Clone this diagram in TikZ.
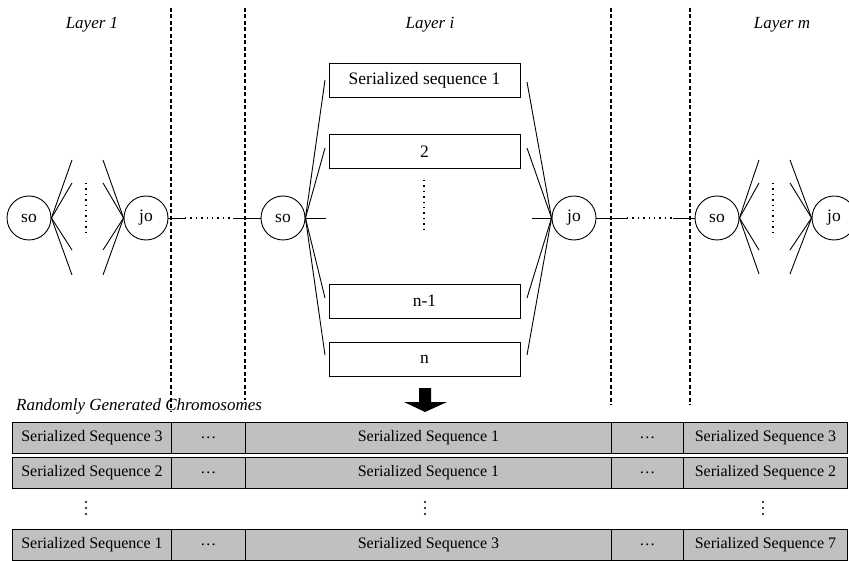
\documentclass[tikz,border=0pt]{standalone}
\usepackage{fontspec}
\setmainfont{Liberation Serif}
\definecolor{cellgray}{HTML}{C0C0C0}
\begin{document}
\begin{tikzpicture}[x=1pt,y=-1pt,
  cell/.style={draw, fill=cellgray, line width=0.9pt, minimum height=31pt, inner sep=0pt,
    anchor=north west, font=\fontsize{16}{18}\selectfont},
  seqbox/.style={draw, fill=white, line width=0.9pt, minimum width=191pt, minimum height=34pt,
    inner sep=0pt, font=\fontsize{17.5}{19}\selectfont},
  opnode/.style={draw, circle, line width=0.9pt, minimum size=44pt, inner sep=0pt,
    font=\fontsize{17.5}{19}\selectfont},
  fan/.style={line width=0.9pt},
  layersep/.style={line width=1.7pt, dash pattern=on 4pt off 2.5pt},
  dotline/.style={line width=1.4pt, dash pattern=on 1.4pt off 4pt},
  layerlabel/.style={font=\itshape\fontsize{17}{19}\selectfont},
  tdot/.style={fill, radius=1.1pt}
]
\useasboundingbox (0,0) rectangle (849,561);

% layer separators
\coordinate (d1t) at (171,8);  \coordinate (d1b) at (171,412);
\coordinate (d2t) at (245,8);  \coordinate (d2b) at (245,400);
\coordinate (d3t) at (611,8);  \coordinate (d3b) at (611,405);
\coordinate (d4t) at (690,8);  \coordinate (d4b) at (690,405);
\foreach \n in {1,2,3,4} \draw[layersep] (d\n t) -- (d\n b);

% layer titles
\node[layerlabel] (l1) at (92,25) {Layer 1};
\node[layerlabel] (li) at (430,25) {Layer i};
\node[layerlabel] (lm) at (782,25) {Layer m};

% operator nodes
\node[opnode] (s1) at (29,218) {so};
\node[opnode] (j1) at (146,218) {jo};
\node[opnode] (si) at (283,218) {so};
\node[opnode] (ji) at (574,218) {jo};
\node[opnode] (sm) at (717,218) {so};
\node[opnode] (jm) at (834,218) {jo};

% serialized sequences of layer i
\node[seqbox] (q1) at (424.5,80) {Serialized sequence 1};
\node[seqbox] (q2) at (424.5,151.5) {2};
\node[seqbox] (q3) at (424.5,301) {n-1};
\node[seqbox] (q4) at (424.5,359.5) {n};

% fans of layer 1
\foreach \y [count=\k] in {160,183,250,275} {
  \coordinate (a\k) at (72,\y);
  \coordinate (b\k) at (103,\y);
  \draw[fan] (s1.east) -- (a\k);
  \draw[fan] (j1.west) -- (b\k);
}
\coordinate (v1t) at (86,183); \coordinate (v1b) at (86,237);
\draw[dotline] (v1t) -- (v1b);

% fans of layer i
\foreach \y/\yy [count=\k] in {80/82,148/148,298/298,355/355} {
  \coordinate (c\k) at (325,\y);
  \coordinate (e\k) at (527,\yy);
  \draw[fan] (si.east) -- (c\k);
  \draw[fan] (ji.west) -- (e\k);
}
\coordinate (cm) at (326,218); \coordinate (em) at (532,218);
\draw[fan] (si.east) -- (cm);
\draw[fan] (ji.west) -- (em);
\coordinate (vit) at (424,180); \coordinate (vib) at (424,233);
\draw[dotline] (vit) -- (vib);

% fans of layer m
\foreach \y [count=\k] in {160,183,250,274} {
  \coordinate (f\k) at (759,\y);
  \coordinate (g\k) at (790,\y);
  \draw[fan] (sm.east) -- (f\k);
  \draw[fan] (jm.west) -- (g\k);
}
\coordinate (vmt) at (773,183); \coordinate (vmb) at (773,237);
\draw[dotline] (vmt) -- (vmb);

% links between layers
\coordinate (p1) at (185,218); \coordinate (p2) at (233,218);
\draw[fan] (j1.east) -- (p1);
\draw[dotline] (p1) -- (p2);
\draw[fan] (p2) -- (si.west);
\coordinate (r1) at (627,218); \coordinate (r2) at (673,218);
\draw[fan] (ji.east) -- (r1);
\draw[dotline] (r1) -- (r2);
\draw[fan] (r2) -- (sm.west);

% block arrow down to the chromosomes
\fill (419,388) -- (431,388) -- (431,402) -- (447,402) -- (425,412)
  -- (404,402) -- (419,402) -- cycle;

\node[layerlabel, anchor=west, inner sep=0pt] (title) at (16,406) {Randomly Generated Chromosomes};

% chromosome table
\foreach \row/\ty/\ta/\tb/\tc in {1/422/3/1/3, 2/457/2/1/2, 3/529/1/3/7} {
  \node[cell, minimum width=159pt] (t\row a) at (12,\ty) {Serialized Sequence \ta};
  \node[cell, minimum width=74pt]  (t\row b) at (171,\ty) {\ldots};
  \node[cell, minimum width=366pt] (t\row c) at (245,\ty) {Serialized Sequence \tb};
  \node[cell, minimum width=72pt]  (t\row d) at (611,\ty) {\ldots};
  \node[cell, minimum width=164pt] (t\row e) at (683,\ty) {Serialized Sequence \tc};
}
% elided rows
\foreach \x in {86,425,763}
  \foreach \y in {502,508,514}
    \fill (\x,\y) circle[radius=1.1pt];
\end{tikzpicture}
\end{document}
